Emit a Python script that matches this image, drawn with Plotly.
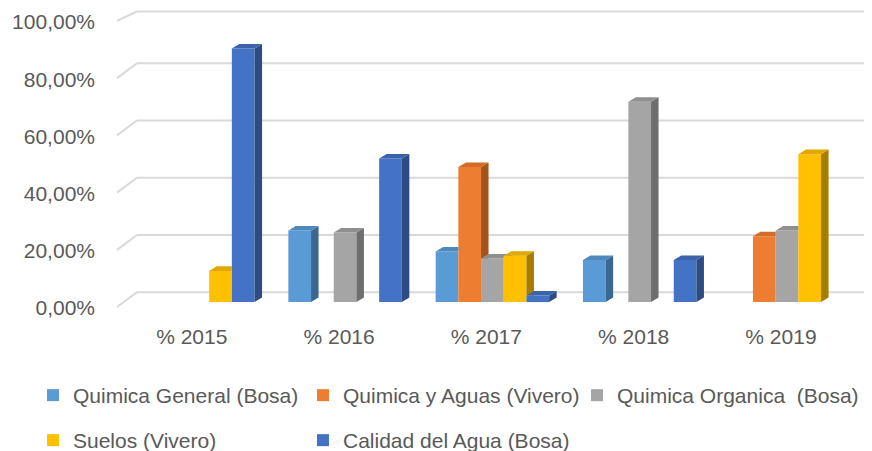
import plotly.graph_objects as go

# ---- data (fractions of 1) ----
years = ["% 2015", "% 2016", "% 2017", "% 2018", "% 2019"]
series_names = [
    "Quimica General (Bosa)",
    "Quimica y Aguas (Vivero)",
    "Quimica Organica  (Bosa)",
    "Suelos (Vivero)",
    "Calidad del Agua (Bosa)",
]
general = [0, 0.25, 0.177, 0.147, 0]
aguas = [0, 0, 0.472, 0, 0.23]
organica = [0, 0.243, 0.152, 0.70, 0.25]
suelos = [0.109, 0, 0.162, 0, 0.517]
calidad = [0.886, 0.502, 0.023, 0.147, 0]
y_ticks = [0, 0.2, 0.4, 0.6, 0.8, 1.0]

series = [general, aguas, organica, suelos, calidad]
front_cols = ["#5B9BD5", "#ED7D31", "#A5A5A5", "#FFC000", "#4472C4"]
top_cols = ["#4F88BC", "#D26C28", "#8F8F8F", "#E0A800", "#3B63AC"]
side_cols = ["#3A6891", "#A5531D", "#6E6E6E", "#A67D00", "#2E4C84"]

# ---- geometry: page pixels, the page body adds an 8 px margin ----
OFF = 8
W, H = 872 - OFF, 451 - OFF
L, R, T, B = 118 - OFF, 860 - OFF, 2, 318 - OFF
X0_PX, X_STEP = 197.8 - OFF, 147.3    # group centre of first category
Y0_PX, Y_SCALE = 302 - OFF, 288       # front base pixel, px per 100 %
xr_ = [(L - X0_PX) / X_STEP, (R - X0_PX) / X_STEP]
yr_ = [(Y0_PX - B) / Y_SCALE, (Y0_PX - T) / Y_SCALE]
BW = 22.7 / X_STEP                # bar width (x units)
DX = 7.5 / X_STEP                 # depth offset x
DY = 4.6 / Y_SCALE                # depth offset y
BACK_PX, FRONT_PX = 10, -5        # back wall / left wall front lift

FONT = "Liberation Sans, Arial, sans-serif"
GREY = "#595959"


def px2paper(px):
    return (px - OFF - L) / (R - L)


def val2paper_y(v, lift_px):
    # figure pixel of the value on the wall, kept inside the drawable page
    fy = max(Y0_PX - Y_SCALE * v - lift_px, 1.5)
    return (H - B - (H - B) + (B - fy)) / (B - T)


def clip(poly, f):
    out = []
    n = len(poly)
    for i in range(n):
        a, b = poly[i], poly[(i + 1) % n]
        fa, fb = f(a), f(b)
        if fa >= 0:
            out.append(a)
        if (fa >= 0) != (fb >= 0):
            t = fa / (fa - fb)
            out.append((a[0] + t * (b[0] - a[0]), a[1] + t * (b[1] - a[1])))
    return out


def area(poly):
    s = 0
    for i in range(len(poly)):
        x1, y1 = poly[i]
        x2, y2 = poly[(i + 1) % len(poly)]
        s += x1 * y2 - x2 * y1
    return abs(s) / 2


def visible(poly, xr, vn):
    # part of a face not hidden behind the next bar's front face
    if vn <= 0:
        return [poly]
    pieces = [clip(poly, lambda p: xr - p[0]), clip(poly, lambda p: p[1] - vn)]
    return [p for p in pieces if len(p) >= 3 and area(p) > 1e-9]


fig = go.Figure()

# legend slots: (text x, row top) in page pixels
legend_pos = [(73, 375), (343, 375), (617, 375), (73, 420), (343, 420)]

# front faces
for k, (name, vals) in enumerate(zip(series_names, series)):
    fig.add_trace(go.Bar(
        x=list(range(len(years))), y=vals, name=name,
        width=BW, offset=-2.5 * BW + k * BW,
        marker=dict(color=front_cols[k], line=dict(width=0)),
        legend="legend" if k == 0 else f"legend{k + 1}",
        hoverinfo="skip",
    ))

# top and side faces, left to right
for i in range(len(years)):
    for k, vals in enumerate(series):
        v = vals[i]
        if v <= 0:
            continue
        xl = i - 2.5 * BW + k * BW
        xr = xl + BW
        vn = series[k + 1][i] if k + 1 < len(series) else 0
        side = [(xr, 0), (xr + DX, DY), (xr + DX, v + DY), (xr, v)]
        top = [(xl, v), (xr, v), (xr + DX, v + DY), (xl + DX, v + DY)]
        for poly, col in ((side, side_cols[k]), (top, top_cols[k])):
            xs, ys = [], []
            for piece in visible(poly, xr, vn):
                xs += [p[0] for p in piece] + [piece[0][0], None]
                ys += [p[1] for p in piece] + [piece[0][1], None]
            if xs:
                fig.add_trace(go.Scatter(
                    x=xs, y=ys, mode="lines", fill="toself", fillcolor=col,
                    line=dict(width=0, color=col), showlegend=False,
                    hoverinfo="skip",
                ))

# back-wall gridlines with slanted left-wall piece
for t in y_ticks:
    yb = val2paper_y(t, BACK_PX)
    yf = val2paper_y(t, FRONT_PX)
    fig.add_shape(type="line", xref="paper", yref="paper", layer="below",
                  x0=px2paper(137), x1=px2paper(872), y0=yb, y1=yb,
                  line=dict(color="#D9D9D9", width=2))
    fig.add_shape(type="line", xref="paper", yref="paper", layer="below",
                  x0=px2paper(117), x1=px2paper(137), y0=yf, y1=yb,
                  line=dict(color="#D9D9D9", width=2))

LAB = 6 / Y_SCALE
legends = {}
for k, (tx, ty) in enumerate(legend_pos):
    key = "legend" if k == 0 else f"legend{k + 1}"
    legends[key] = dict(
        orientation="h", xref="container", yref="container",
        x=(tx - OFF - 40) / W, y=1 - (ty - OFF) / H,
        xanchor="left", yanchor="top",
        font=dict(family=FONT, size=21, color=GREY),
        bgcolor="rgba(0,0,0,0)", itemclick=False, itemdoubleclick=False,
    )

fig.update_layout(
    width=W, height=H,
    margin=dict(l=L, r=W - R, t=T, b=H - B, pad=0),
    paper_bgcolor="white", plot_bgcolor="white",
    barmode="overlay",
    separators=",.",
    font=dict(family=FONT, size=21, color=GREY),
    xaxis=dict(range=xr_, tickvals=[i - 0.041 for i in range(len(years))],
               ticktext=years, showgrid=False, zeroline=False, showline=False,
               ticks="", ticklabelstandoff=4,
               tickfont=dict(family=FONT, size=21, color=GREY)),
    yaxis=dict(range=yr_, showgrid=False, zeroline=False, showticklabels=False),
    yaxis2=dict(range=[yr_[0] + LAB, yr_[1] + LAB], overlaying="y", side="left",
                tickvals=y_ticks, tickformat=".2%", showgrid=False,
                zeroline=False, showline=False, ticks="", ticklabelstandoff=22,
                tickfont=dict(family=FONT, size=21, color=GREY)),
    **legends,
)

# an invisible trace to activate yaxis2 tick labels
fig.add_trace(go.Scatter(x=[None], y=[None], yaxis="y2", showlegend=False,
                         hoverinfo="skip"))

fig.write_html("out.html")
